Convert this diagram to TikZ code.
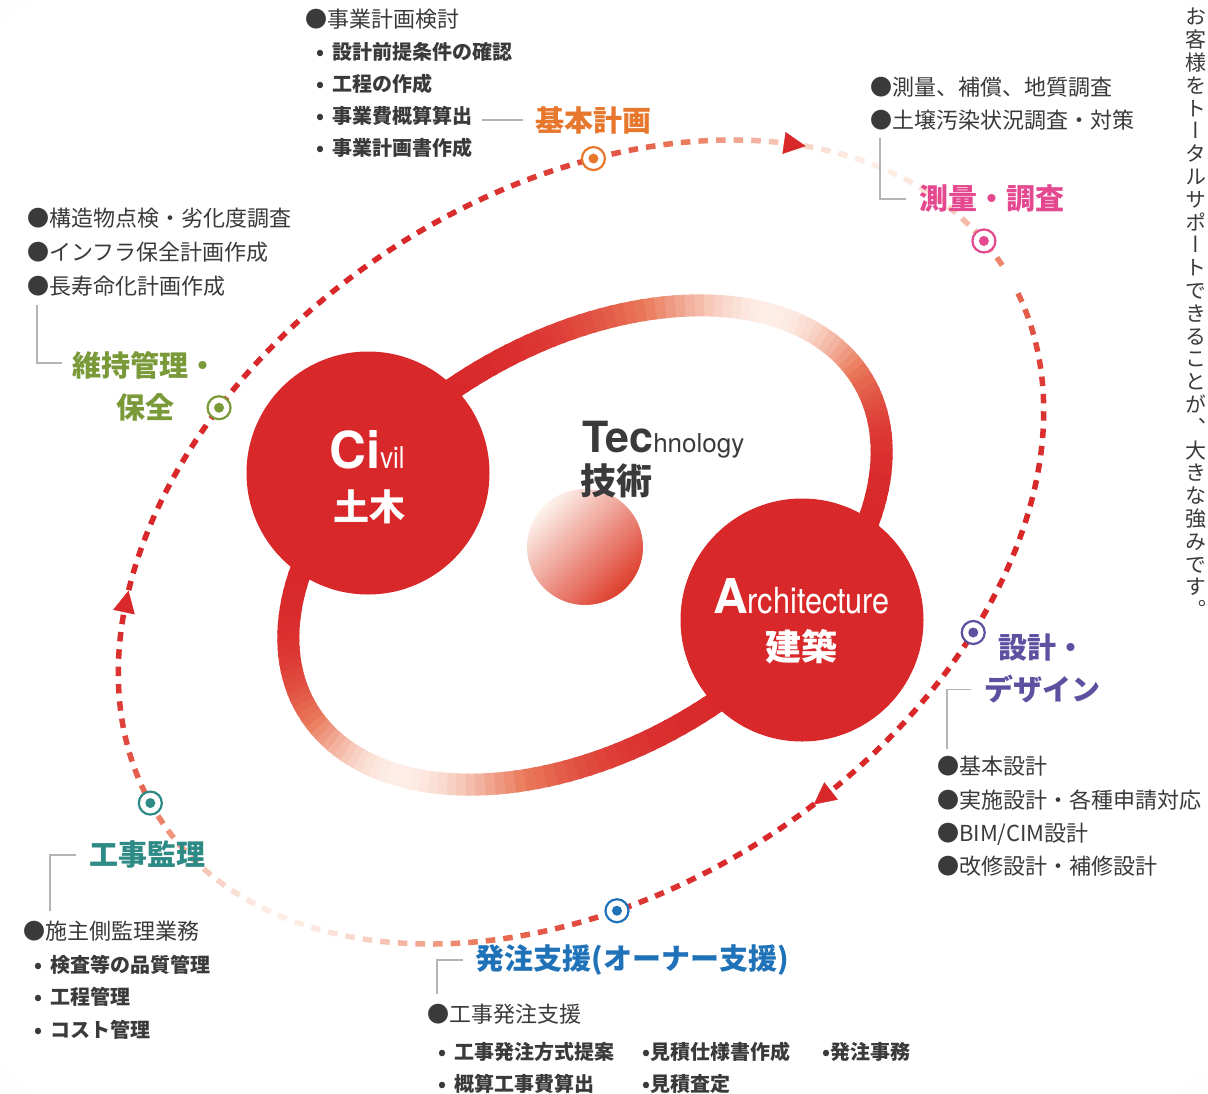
\documentclass[tikz,border=0pt]{standalone}
\usepackage{fontspec}
\setmainfont{Noto Sans CJK JP}
\newfontfamily\latinfont{TeX Gyre Heros}
\newfontfamily\latinnarrow[FakeStretch=0.85]{TeX Gyre Heros}
\newfontfamily\tatefont[RawFeature=+vert]{Noto Sans CJK JP}
\usetikzlibrary{arrows.meta,positioning}

\definecolor{ringred}{RGB}{217,40,42}
\definecolor{ringsalmon}{RGB}{234,122,92}
\definecolor{ringpale}{RGB}{253,238,231}
\definecolor{ballpale}{RGB}{253,242,236}
\definecolor{ballred}{RGB}{221,62,44}
\definecolor{inkgray}{RGB}{58,58,58}
\definecolor{leadgray}{RGB}{180,180,180}
\definecolor{kihoncol}{RGB}{232,119,46}
\definecolor{sokuryocol}{RGB}{228,72,142}
\definecolor{sekkeicol}{RGB}{92,80,160}
\definecolor{hacchucol}{RGB}{31,114,184}
\definecolor{kanricol}{RGB}{46,138,133}
\definecolor{ijicol}{RGB}{122,154,58}
\definecolor{bgpink}{RGB}{250,238,241}

% red -> salmon -> pale, #1 = whiteness 0..1
\newcommand{\fadecolor}[2]{%
  \pgfmathtruncatemacro\fadepct{200*#1}%
  \ifnum\fadepct<100\relax
    \colorlet{#2}{ringsalmon!\fadepct!ringred}%
  \else
    \pgfmathtruncatemacro\fadepct{\fadepct-100}%
    \colorlet{#2}{ringpale!\fadepct!ringsalmon}%
  \fi}
\newcommand{\listsub}[1]{\hspace*{11pt}{\bfseries\fontsize{20}{32}\selectfont •\hspace{8pt}#1}}

\pgfdeclareradialshading{pagefade}{\pgfpoint{0bp}{0bp}}{color(0bp)=(white); color(34bp)=(white); color(50bp)=(bgpink)}

\begin{document}
\begin{tikzpicture}
  [x=1pt, y=-1pt,
  itemlist/.style={inner sep=0, anchor=north west, align=left,
    text=inkgray, font=\fontsize{22}{33}\selectfont},
  heading/.style={inner sep=0, align=center, text=#1,
    font=\fontsize{29}{42}\selectfont\bfseries},
  leader/.style={draw=leadgray, line width=1.3},
  marker/.style={circle, draw=#1, fill=white, line width=2.2,
    minimum size=23, inner sep=0,
    path picture={\fill[#1] (path picture bounding box.center) circle (5);}},
  hub/.style={circle, fill=ringred, minimum size=243, inner sep=0},
  hublabel/.style={inner sep=0, text=white,
    font=\fontsize{36}{40}\selectfont\bfseries},
  turn/.style={ringred, line width=0.5,
    -{Triangle[length=22pt,width=22pt]}}]
  \useasboundingbox (0,0) rectangle (1208,1093);
  \shade[shading=pagefade] (0,0) rectangle (1208,1093);

  % inner ring
  \begin{scope}[shift={(585,545)}, rotate=30.5]
    \foreach \ang in {0,2,...,358}{
      \pgfmathsetmacro\fadew{cos(\ang-30)*cos(\ang-30)}
      \pgfmathsetmacro\fadew{\fadew*\fadew*\fadew}
      \fadecolor{\fadew}{bandc}
      \draw[bandc, line width=22] ({323*cos(\ang)},{-203*sin(\ang)})
        -- ({323*cos(\ang+2.6)},{-203*sin(\ang+2.6)});
    }
  \end{scope}

  % outer dashed cycle
  \begin{scope}[shift={(581,542)}, rotate=33.3]
    \pgfmathsetmacro\tcur{0}
    \loop
      \pgfmathsetmacro\spd{100*sqrt((5.04*sin(\tcur))*(5.04*sin(\tcur))+(3.49*cos(\tcur))*(3.49*cos(\tcur)))}
      \pgfmathsetmacro\tend{\tcur+9.5/\spd*57.2958}
      \pgfmathsetmacro\fadew{cos(\tcur-25)*cos(\tcur-25)}
      \pgfmathsetmacro\fadew{\fadew*\fadew*\fadew}
      \fadecolor{\fadew}{dashc}
      \draw[dashc, line width=5.5] ({504*cos(\tcur)},{-349*sin(\tcur)})
        -- ({504*cos(\tend)},{-349*sin(\tend)});
      \pgfmathsetmacro\tcur{\tcur+17.5/\spd*57.2958}
    \ifdim\tcur pt<355pt\repeat
    \foreach \ang in {38,277,145}{
      \pgfmathsetmacro\spd{100*sqrt((5.04*sin(\ang))*(5.04*sin(\ang))+(3.49*cos(\ang))*(3.49*cos(\ang)))}
      \pgfmathsetmacro\tb{\ang+11/\spd*57.2958}
      \pgfmathsetmacro\te{\ang-11/\spd*57.2958}
      \draw[turn] ({504*cos(\tb)},{-349*sin(\tb)}) -- ({504*cos(\te)},{-349*sin(\te)});
    }
    \node[marker=kihoncol] (kihonMark) at ({504*cos(64)},{-349*sin(64)}) {};
    \node[marker=sokuryocol] (sokuryoMark) at ({504*cos(5)},{-349*sin(5)}) {};
    \node[marker=sekkeicol] (sekkeiMark) at ({504*cos(303.5)},{-349*sin(303.5)}) {};
    \node[marker=hacchucol] (hacchuMark) at ({504*cos(250)},{-349*sin(250)}) {};
    \node[marker=kanricol] (kanriMark) at ({504*cos(177)},{-349*sin(177)}) {};
    \node[marker=ijicol] (ijiMark) at ({504*cos(117)},{-349*sin(117)}) {};
  \end{scope}

  % hubs
  \node[hub] (civil) at (368,473) {};
  \node[hub] (arch) at (802,620) {};
  \shade[top color=ballpale, bottom color=ballred, shading angle=45]
    (585,547) circle (58);

  \node[anchor=base, inner sep=0, text=white] (civilEn) at (367,468)
    {{\latinfont\bfseries\fontsize{51}{51}\selectfont Ci}{\latinnarrow\fontsize{30}{30}\selectfont vil}};
  \node[hublabel] (civilJa) at (369,507) {土木};
  \node[anchor=base west, inner sep=0, text=white] (archEn) at (713,613)
    {{\latinfont\bfseries\fontsize{48}{48}\selectfont A}{\latinnarrow\fontsize{36}{36}\selectfont rchitecture}};
  \node[hublabel] (archJa) at (801,647) {建築};
  \node[anchor=base west, inner sep=0, text=inkgray] (techEn) at (582,452)
    {{\latinfont\bfseries\fontsize{43}{43}\selectfont Tec}{\latinfont\fontsize{26}{26}\selectfont hnology}};
  \node[hublabel, text=inkgray] (techJa) at (616,481) {技術};

  % headings
  \node[heading=kihoncol] (kihonTitle) at (593.5,120) {基本計画};
  \node[heading=sokuryocol] (sokuryoTitle) at (991.5,199) {測量・調査};
  \node[heading=ijicol] (ijiTitle) at (145,386) {維持管理・\\保全};
  \node[heading=sekkeicol] (sekkeiTitle) at (1042,668) {設計・\\デザイン};
  \node[heading=kanricol] (kanriTitle) at (147.5,855) {工事監理};
  \node[heading=hacchucol] (hacchuTitle) at (632.5,960) {発注支援(オーナー支援)};

  % lists
  \node[itemlist, font=\fontsize{22}{32}\selectfont] (kihonList) at (305,9)
    {●事業計画検討\\\listsub{設計前提条件の確認}\\\listsub{工程の作成}\\
     \listsub{事業費概算算出}\\\listsub{事業計画書作成}};
  \node[itemlist] (sokuryoList) at (870,77)
    {●測量、補償、地質調査\\●土壌汚染状況調査・対策};
  \node[itemlist, font=\fontsize{22}{34}\selectfont] (ijiList) at (27,208)
    {●構造物点検・劣化度調査\\●インフラ保全計画作成\\●長寿命化計画作成};
  \node[itemlist, font=\fontsize{22}{33.4}\selectfont] (sekkeiList) at (937,756)
    {●基本設計\\●実施設計・各種申請対応\\●BIM/CIM設計\\●改修設計・補修設計};
  \node[itemlist, font=\fontsize{22}{32.5}\selectfont] (kanriList) at (23,921)
    {●施主側監理業務\\\listsub{検査等の品質管理}\\\listsub{工程管理}\\\listsub{コスト管理}};
  \node[itemlist] (hacchuList) at (427,1004) {●工事発注支援};
  \node[itemlist, font=\bfseries\fontsize{20}{32}\selectfont] (hacchuTasks) at (438,1037)
    {\begin{tabular}{@{}l@{\hspace{28pt}}l@{\hspace{32pt}}l@{}}
       •\hspace{8pt}工事発注方式提案 & •見積仕様書作成 & •発注事務\\
       •\hspace{8pt}概算工事費算出 & •見積査定 &
     \end{tabular}};

  % side note
  \node[inner sep=0, anchor=north, align=center, text=inkgray,
    font=\tatefont\fontsize{21}{22.8}\selectfont] (slogan) at (1196,8)
    {お\\客\\様\\を\\ト\\ー\\タ\\ル\\サ\\ポ\\ー\\ト\\で\\き\\る\\こ\\と\\が\\、\\大\\き\\な\\強\\み\\で\\す\\。};

  % leaders
  \begin{scope}[every path/.style=leader]
    \path ([xshift=-12pt]kihonTitle.west) -- ([xshift=-53pt]kihonTitle.west);
    \path ([xshift=10pt,yshift=-7pt]sokuryoList.south west) |- ([xshift=-13pt]sokuryoTitle.west);
    \path ([xshift=10pt,yshift=-8pt]ijiList.south west) |- ([xshift=-10pt,yshift=-12pt]ijiTitle.north west);
    \path ([xshift=10pt,yshift=7pt]sekkeiList.north west) |- ([xshift=-13pt,yshift=13pt]sekkeiTitle.south west);
    \path ([xshift=27pt,yshift=10pt]kanriList.north west) |- ([xshift=-13pt]kanriTitle.west);
    \path ([xshift=10pt,yshift=10pt]hacchuList.north west) |- ([xshift=-13pt]hacchuTitle.west);
  \end{scope}
\end{tikzpicture}
\end{document}
